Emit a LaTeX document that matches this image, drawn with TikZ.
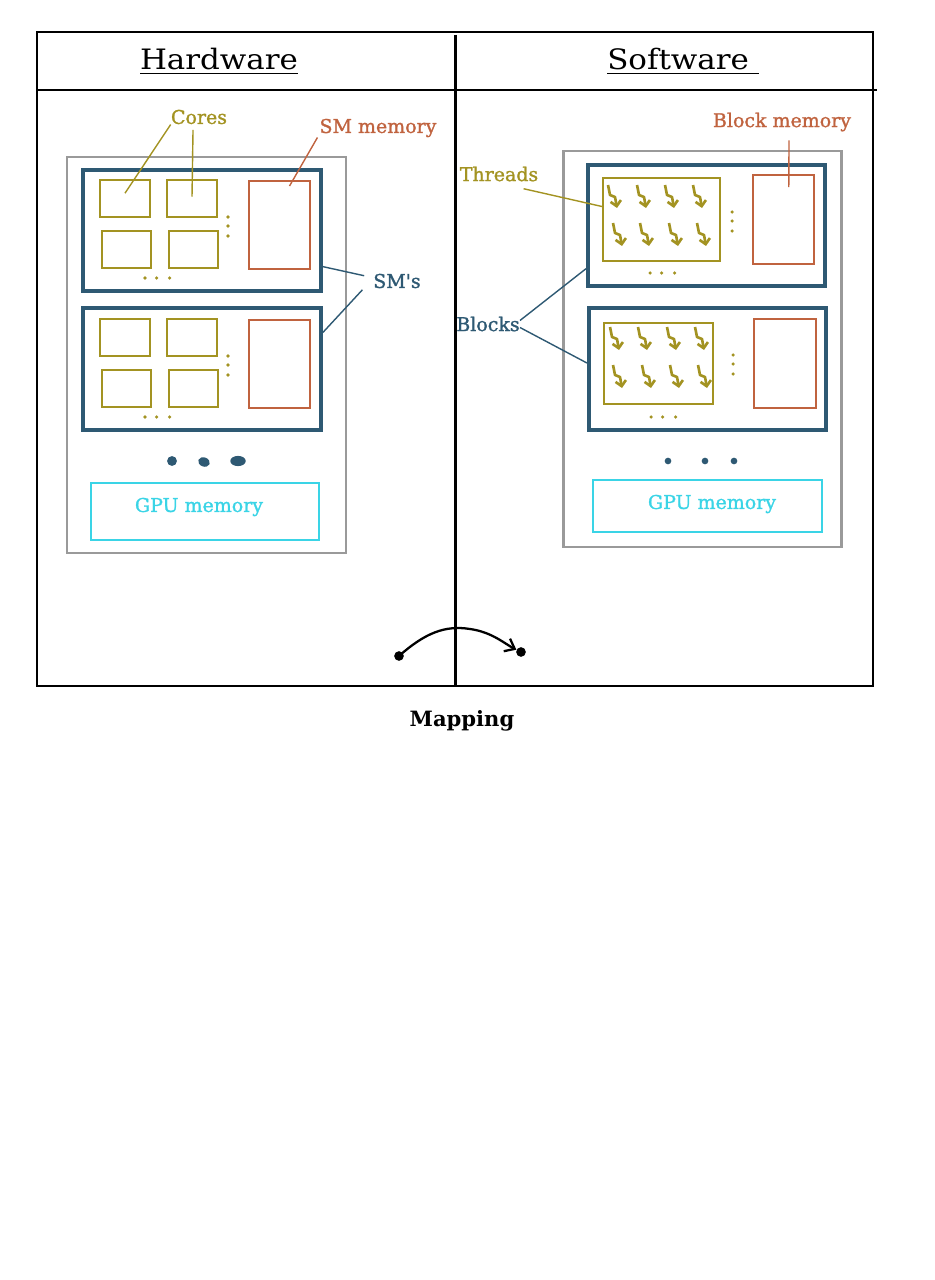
\documentclass[tikz,border=0pt]{standalone}
\usepackage{fontspec}
\setmainfont{DejaVu Serif}
\newfontfamily\headfont[FakeStretch=1.1]{DejaVu Serif}
\newfontfamily\lblfont[FakeBold=1.3]{DejaVu Serif}
\usetikzlibrary{arrows.meta,fit}

\definecolor{smblue}{HTML}{2E5973}
\definecolor{coreolive}{HTML}{A39322}
\definecolor{memorange}{HTML}{C0633F}
\definecolor{gpucyan}{HTML}{3AD4E6}
\definecolor{chipgray}{HTML}{9A9A9A}

\tikzset{
  frame/.style={draw=black, line width=1.1pt},
  chip/.style={draw=chipgray, line width=1.7pt, inner sep=0pt},
  smbox/.style={draw=smblue, line width=2.3pt, inner sep=0pt},
  corebox/.style={draw=coreolive, line width=1.2pt, inner sep=0pt},
  membox/.style={draw=memorange, line width=1.1pt, inner sep=0pt},
  gpubox/.style={draw=gpucyan, line width=0.9pt, inner sep=0pt},
  lbl/.style={font=\lblfont\fontsize{10.8}{13}\selectfont, inner sep=0pt},
  head/.style={font=\headfont\fontsize{16}{20}\selectfont, inner sep=0pt, anchor=base},
  minidot/.style={circle, fill=coreolive, inner sep=0pt, minimum size=2pt},
  lead/.style={line width=0.8pt},
  thread/.pic={\draw[coreolive, line width=1.5pt, line join=round,
      -{Straight Barb[length=3pt,width=6pt]}] (0,0) -- (2,10) -- (7,12) -- (9,23);}
}

\begin{document}
\begin{tikzpicture}[x=0.02cm, y=-0.02cm]
  \useasboundingbox (0,0) rectangle (934,1280);

  % frame and header
  \draw[frame] (37,32) rectangle (873,686);
  \draw[frame] (37,90) -- (877,90);
  \draw[black, line width=1.7pt] (455,35) -- (455,686);
  \node[head] (hw) at (219,70) {\underline{Hardware}};
  \node[head] (sw) at (683,70) {\underline{Software\ }};

  % hardware side
  \node[chip, fit={(67,157) (346,553)}] (gpuhw) {};
  \node[smbox, fit={(83,170) (321,291)}] (sm1) {};
  \node[smbox, fit={(83,308) (321,430)}] (sm2) {};
  \foreach \y/\n in {0/1, 139/2} {
    \node[corebox, fit={(100,180+\y) (150,217+\y)}] (core\n a) {};
    \node[corebox, fit={(167,180+\y) (217,217+\y)}] (core\n b) {};
    \node[corebox, fit={(102,231+\y) (151,268+\y)}] (core\n c) {};
    \node[corebox, fit={(169,231+\y) (218,268+\y)}] (core\n d) {};
    \node[membox, fit={(249,181+\y) (310,269+\y)}] (smmem\n) {};
    \foreach \d in {0,9,19} {
      \node[minidot] (hv\n-\d) at (228,217+\y+\d) {};
      \node[minidot] (hh\n-\d) at (145+\d*1.3,278+\y) {};
    }
  }
  \fill[smblue] (172,461) circle (2.8pt);
  \fill[smblue, rotate around={-20:(204,462)}] (204,462) ellipse (3.4pt and 2.6pt);
  \fill[smblue] (238,461) ellipse (4.4pt and 2.9pt);
  \node[gpubox, fit={(91,483) (319,540)}] (gpumemhw) {};
  \node[lbl, text=gpucyan] (gpulblhw) at (199,507) {GPU memory};

  % hardware labels
  \node[lbl, text=coreolive] (cores) at (199,117) {Cores};
  \node[lbl, text=memorange] (smmemlbl) at (378,128) {SM memory};
  \node[lbl, text=smblue] (smslbl) at (397,281) {SM\textquotesingle s};
  \draw[coreolive, lead] (cores.south west) -- ([yshift=3pt]core1a.center);
  \draw[coreolive, lead] ([xshift=-3.4pt,yshift=-3pt]cores.south) -- ([yshift=1pt]core1b.center);
  \draw[memorange, lead] ([xshift=-1pt]smmemlbl.south west) -- ([xshift=5.7pt,yshift=-3.4pt]smmem1.north);
  \draw[smblue, lead] ([yshift=15pt]sm1.south east) -- ([xshift=-5pt,yshift=3pt]smslbl.west);
  \draw[smblue, lead] ([xshift=-6pt,yshift=-5pt]smslbl.west) -- ([yshift=-15pt]sm2.north east);

  % software side
  \node[chip, fit={(563,151) (841,547)}] (gpusw) {};
  \node[smbox, fit={(588,165) (825,286)}] (blk1) {};
  \node[smbox, fit={(589,308) (826,430)}] (blk2) {};
  \node[corebox, fit={(603,178) (720,261)}] (thr1) {};
  \node[corebox, fit={(604,323) (713,404)}] (thr2) {};
  \node[membox, fit={(753,175) (814,264)}] (blkmem1) {};
  \node[membox, fit={(754,319) (816,408)}] (blkmem2) {};
  \foreach \x in {608,637,665,693} \pic at (\x,185) {thread};
  \foreach \x in {613,640,669,697} \pic at (\x,223) {thread};
  \foreach \x in {610,638,667,695} \pic at (\x,327) {thread};
  \foreach \x in {613,642,670,698} \pic at (\x,365) {thread};
  \foreach \d in {0,9,19} {
    \node[minidot] (sv1-\d) at (732,212+\d) {};
    \node[minidot] (sh1-\d) at (650+\d*1.3,273) {};
    \node[minidot] (sv2-\d) at (733,355+\d) {};
    \node[minidot] (sh2-\d) at (651+\d*1.3,417) {};
  }
  \foreach \x in {668,705,734} \fill[smblue] (\x,461) circle (1.9pt);
  \node[gpubox, fit={(593,480) (822,532)}] (gpumemsw) {};
  \node[lbl, text=gpucyan] (gpulblsw) at (712,504) {GPU memory};

  % software labels
  \node[lbl, text=memorange] (blkmemlbl) at (782,122) {Block memory};
  \node[lbl, text=coreolive] (thrlbl) at (499,174) {Threads};
  \node[lbl, text=smblue] (blklbl) at (488,324) {Blocks};
  \draw[memorange, lead] ([xshift=4pt,yshift=-5pt]blkmemlbl.south) -- ([xshift=3pt,yshift=-7.4pt]blkmem1.north);
  \draw[coreolive, lead] ([xshift=-8.5pt,yshift=-4pt]thrlbl.south east) -- ([yshift=7.4pt]thr1.west);
  \draw[smblue, lead] ([yshift=2pt]blklbl.east) -- ([yshift=11pt]blk1.south west);
  \draw[smblue, lead] ([yshift=-2pt]blklbl.east) -- ([yshift=3.4pt]blk2.west);

  % mapping arrow
  \node[circle, fill=black, inner sep=0pt, minimum size=5.5pt] (mapsrc) at (399,656) {};
  \node[circle, fill=black, inner sep=0pt, minimum size=5.5pt] (mapdst) at (521,652) {};
  \draw[line width=1.3pt, -{Straight Barb[length=5pt,width=8pt]}] (mapsrc.center)
    .. controls (425,633) and (445,625) .. (470,629)
    .. controls (492,632) and (505,644) .. (mapdst);
  \node[font=\bfseries\fontsize{12}{14}\selectfont, inner sep=0pt] (maplbl) at (462,721) {Mapping};
\end{tikzpicture}
\end{document}
